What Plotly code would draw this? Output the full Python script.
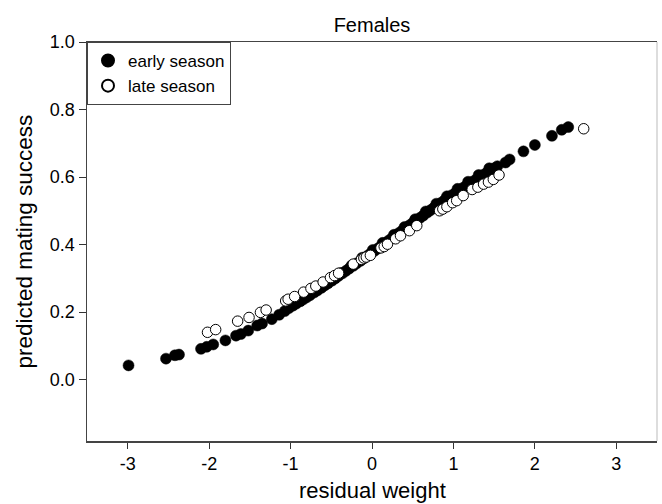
import plotly.graph_objects as go

title_text = "Females"
x_title = "residual weight"
y_title = "predicted mating success"
x_ticks = [-3, -2, -1, 0, 1, 2, 3]
x_ticklabels = ["-3", "-2", "-1", "0", "1", "2", "3"]
y_ticks = [0.0, 0.2, 0.4, 0.6, 0.8, 1.0]
y_ticklabels = ["0.0", "0.2", "0.4", "0.6", "0.8", "1.0"]

early_x = [-2.99, -2.53, -2.42, -2.37, -2.10, -2.03, -1.95, -1.80, -1.67, -1.61,
           -1.52, -1.41, -1.35, -1.23, -1.14, -1.07,
           -1.02, -0.97, -0.93, -0.88, -0.84, -0.80, -0.76, -0.71, -0.67, -0.62,
           -0.58, -0.54, -0.49, -0.45, -0.41, -0.36, -0.32, -0.28, -0.23, -0.19,
           -0.14, -0.10, -0.06, -0.02, 0.03, 0.07, 0.11, 0.16, 0.20, 0.24,
           0.29, 0.33, 0.37, 0.42, 0.46, 0.50, 0.55, 0.59, 0.63, 0.68,
           0.72, 0.76, 0.81, 0.85, 0.89, 0.94, 0.98, 1.02, 1.07, 1.11,
           1.15, 1.20, 1.24, 1.28, 1.33, 1.37, 1.41, 1.46, 1.50, 1.54,
           -0.90, -0.78, -0.65, -0.52, -0.38, -0.25, -0.12, 0.01, 0.13, 0.27,
           0.40, 0.53, 0.66, 0.79, 0.92, 1.05, 1.18, 1.31, 1.44,
           1.64, 1.69, 1.86, 2.00, 2.21, 2.33, 2.41]
early_y = [0.042, 0.062, 0.072, 0.074, 0.091, 0.097, 0.104, 0.116, 0.130, 0.135,
           0.145, 0.160, 0.166, 0.179, 0.192, 0.203,
           0.212, 0.219, 0.225, 0.232, 0.238, 0.244, 0.250, 0.258, 0.264, 0.272,
           0.279, 0.285, 0.293, 0.300, 0.307, 0.315, 0.322, 0.329, 0.337, 0.344,
           0.352, 0.359, 0.366, 0.373, 0.381, 0.388, 0.395, 0.404, 0.411, 0.418,
           0.427, 0.434, 0.441, 0.450, 0.457, 0.464, 0.472, 0.479, 0.486, 0.495,
           0.502, 0.509, 0.517, 0.524, 0.531, 0.539, 0.546, 0.552, 0.560, 0.567,
           0.573, 0.581, 0.587, 0.593, 0.601, 0.607, 0.613, 0.620, 0.626, 0.632,
           0.233, 0.251, 0.271, 0.292, 0.316, 0.338, 0.361, 0.384, 0.405, 0.429,
           0.452, 0.475, 0.498, 0.521, 0.543, 0.565, 0.586, 0.606, 0.626,
           0.643, 0.652, 0.676, 0.695, 0.722, 0.740, 0.748]

late_x = [-2.02, -1.92, -1.65, -1.51, -1.37, -1.30, -1.06, -1.03, -0.95, -0.84,
          -0.75, -0.69, -0.60, -0.51, -0.46, -0.41, -0.23, -0.13, -0.10, -0.07,
          -0.02, 0.11, 0.15, 0.19, 0.29, 0.35, 0.46, 0.55, 0.83, 0.87,
          0.92, 0.99, 1.04, 1.12, 1.23, 1.30, 1.37, 1.43, 1.49, 1.56, 2.60]
late_y = [0.140, 0.148, 0.173, 0.184, 0.199, 0.206, 0.233, 0.238, 0.246, 0.259,
          0.270, 0.277, 0.289, 0.302, 0.308, 0.315, 0.342, 0.356, 0.360, 0.363,
          0.368, 0.390, 0.394, 0.401, 0.417, 0.426, 0.441, 0.456, 0.500, 0.505,
          0.512, 0.524, 0.530, 0.545, 0.563, 0.570, 0.579, 0.585, 0.593, 0.606, 0.743]

font_family = "Liberation Sans, Arial, sans-serif"

fig = go.Figure()
fig.add_trace(go.Scatter(
    x=early_x, y=early_y, mode="markers", name="early season",
    marker=dict(size=11, color="black", line=dict(color="black", width=0.5)),
))
fig.add_trace(go.Scatter(
    x=late_x, y=late_y, mode="markers", name="late season",
    marker=dict(size=10.5, color="white", line=dict(color="black", width=1)),
))

fig.update_layout(
    width=662, height=504,
    margin=dict(l=87, r=5, t=42, b=63, autoexpand=False),
    paper_bgcolor="white", plot_bgcolor="white",
    font=dict(family=font_family, color="black"),
    title=dict(text=title_text, x=0.5, xref="paper", xanchor="center",
               y=1 - 25 / 504, yref="container", yanchor="middle",
               font=dict(size=20), automargin=False),
    showlegend=True,
    legend=dict(x=0.0, y=1.0, xanchor="left", yanchor="top",
                bgcolor="white", bordercolor="#444", borderwidth=1,
                font=dict(size=17), itemsizing="constant", itemwidth=30,
                tracegroupgap=0),
    xaxis=dict(range=[-3.5, 3.5], tickvals=x_ticks, ticktext=x_ticklabels,
               ticks="outside", ticklen=6,
               tickcolor="#333", showline=True, linecolor="#444", linewidth=1.5,
               mirror=True, showgrid=False, zeroline=False, automargin=False,
               tickfont=dict(size=18)),
    yaxis=dict(range=[-0.182, 1.0], tickvals=y_ticks, ticktext=y_ticklabels,
               ticks="outside", ticklen=7, tickcolor="#333",
               showline=True, linecolor="#444", linewidth=1.5, mirror=False,
               showgrid=False, zeroline=False, automargin=False,
               tickfont=dict(size=18)),
    shapes=[dict(type="line", xref="paper", yref="paper", x0=1, x1=1, y0=0, y1=1,
                 line=dict(color="#bbbbbb", width=1))],
    annotations=[
        dict(text=x_title, xref="paper", yref="paper", x=0.5, y=0,
             xanchor="center", yanchor="middle", yshift=-49, showarrow=False,
             font=dict(size=22)),
        dict(text=y_title, xref="paper", yref="paper", x=0, y=0.5,
             xanchor="center", yanchor="middle", xshift=-63, textangle=-90,
             showarrow=False, font=dict(size=22.5)),
    ],
)

fig.write_html("out.html",
               config={"displayModeBar": False, "staticPlot": True},
               post_script="document.body.style.margin='0';document.body.style.overflow='hidden';")
